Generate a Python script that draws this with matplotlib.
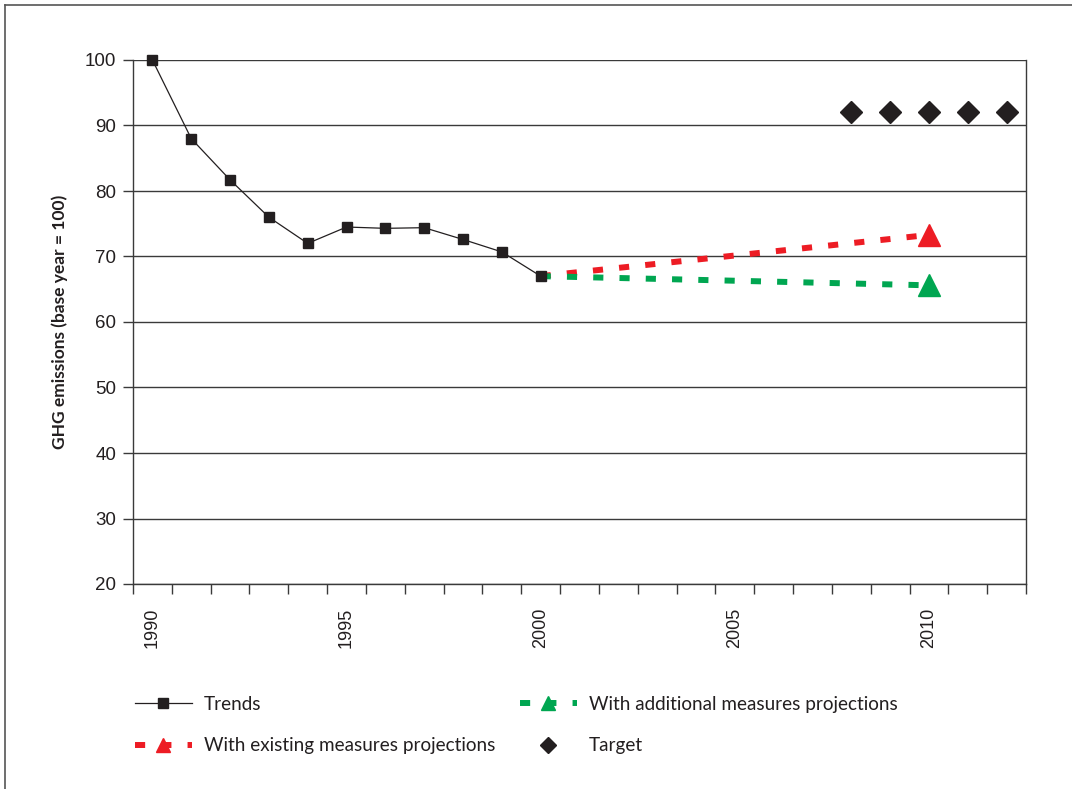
import matplotlib
matplotlib.use("Agg")
import matplotlib.pyplot as plt
from matplotlib.lines import Line2D

# Data: greenhouse gas emissions index (base year = 100)
years = list(range(1990, 2013))
trend_years = list(range(1990, 2001))
trend_values = [100.0, 88.0, 81.7, 76.0, 72.0, 74.5, 74.3, 74.4, 72.6, 70.7, 67.0]
existing_years = [2000, 2010]
existing_values = [67.0, 73.3]
additional_years = [2000, 2010]
additional_values = [67.0, 65.6]
target_years = [2008, 2009, 2010, 2011, 2012]
target_values = [92, 92, 92, 92, 92]
tick_years = [1990, 1995, 2000, 2005, 2010]

RED = "#ED1C24"
GREEN = "#00A651"
BLACK = "#231F20"
GRID = "#3a3a3a"

label_font = ["Lato", "DejaVu Sans"]
tick_font = ["Liberation Sans", "DejaVu Sans"]

fig = plt.figure(figsize=(10.72, 7.89), dpi=100)
ax = fig.add_axes([133 / 1072, 1 - 584 / 789, (1026 - 133) / 1072, (584 - 60) / 789])


def pos(ys):
    return [y - years[0] for y in ys]


ax.plot(pos(trend_years), trend_values, color=BLACK, lw=0.9, marker="s",
        ms=7.2, mfc=BLACK, mec=BLACK, zorder=5, clip_on=False)
ax.plot(pos(existing_years), existing_values, color=RED, lw=4.3,
        dashes=(1.7, 2.7), zorder=4)
ax.plot(pos(existing_years[-1:]), existing_values[-1:], ls="none",
        marker="^", ms=16, color=RED, zorder=6)
ax.plot(pos(additional_years), additional_values, color=GREEN, lw=4.3,
        dashes=(1.7, 2.7), zorder=4)
ax.plot(pos(additional_years[-1:]), additional_values[-1:], ls="none",
        marker="^", ms=16, color=GREEN, zorder=6)
ax.plot(pos(target_years), target_values, ls="none", marker="D", ms=11.5,
        color=BLACK, zorder=6)

ax.set_xlim(-0.5, len(years) - 0.5)
ax.set_ylim(20, 100)
ax.set_yticks(range(20, 101, 10))
ax.yaxis.grid(True, color=GRID, lw=1.0)
ax.set_axisbelow(True)

# category boundaries carry the tick marks, labels sit at category centres
ax.set_xticks([i - 0.5 for i in range(len(years) + 1)])
ax.set_xticklabels([])
ax.set_xticks(pos(tick_years), minor=True)
ax.set_xticklabels([str(y) for y in tick_years], minor=True, rotation=90,
                   family=tick_font, fontsize=13, color=BLACK)
ax.tick_params(axis="x", which="major", length=7, width=1, color=GRID)
ax.tick_params(axis="x", which="minor", length=0, pad=17)
ax.tick_params(axis="y", length=7, width=1, color=GRID, pad=5,
               labelsize=13.5, labelcolor=BLACK)
for lab in ax.get_yticklabels():
    lab.set_family(tick_font)

for side in ("left", "right", "bottom"):
    ax.spines[side].set_color(GRID)
    ax.spines[side].set_linewidth(1.0)
ax.spines["top"].set_visible(False)

ax.set_ylabel("GHG emissions (base year = 100)", family=label_font,
              fontsize=12.5, fontweight="bold", color=BLACK, labelpad=12)

# legend
proj_kw = dict(lw=4.3, dashes=(1.7, 2.7), marker="^", ms=10, markevery=[1])
handles = [
    Line2D([0], [0], color=BLACK, lw=0.9, marker="s", ms=7),
    Line2D([0, 0.5, 1], [0, 0, 0], color=RED, **proj_kw),
    Line2D([0, 0.5, 1], [0, 0, 0], color=GREEN, **proj_kw),
    Line2D([0], [0], color=BLACK, ls="none", marker="D", ms=8),
]
labels = ["Trends", "With existing measures projections",
          "With additional measures projections", "Target"]
fig.legend(handles, labels, ncol=2, loc="upper left",
           bbox_to_anchor=(118 / 1072, 1 - 679 / 789), frameon=False,
           prop={"family": label_font, "size": 13.6}, handlelength=3.0,
           handletextpad=0.65, columnspacing=1.3, labelspacing=1.28,
           labelcolor=BLACK)

# outer frame lines along the top and left edges
fig.add_artist(Line2D([5 / 1072, 1], [1 - 5 / 789, 1 - 5 / 789],
                      transform=fig.transFigure, color="#555555", lw=1.2))
fig.add_artist(Line2D([5 / 1072, 5 / 1072], [0, 1 - 5 / 789],
                      transform=fig.transFigure, color="#555555", lw=1.2))

fig.savefig("out.png", dpi=100, facecolor="white")
